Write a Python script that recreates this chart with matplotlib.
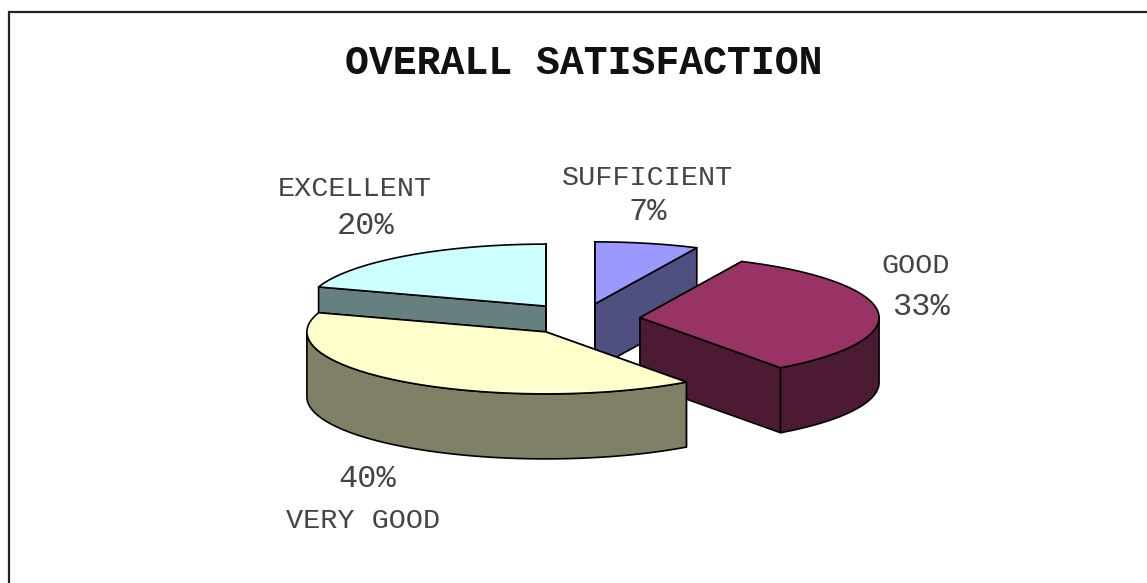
import numpy as np
import matplotlib
matplotlib.use("Agg")
import matplotlib.pyplot as plt
from matplotlib.patches import Polygon

# data
labels = ["SUFFICIENT", "GOOD", "VERY GOOD", "EXCELLENT"]
values = [7, 33, 40, 20]
top_colors = ["#9999FF", "#993366", "#FFFFCC", "#CCFFFF"]
side_colors = ["#4F4F80", "#4D1A33", "#808066", "#668080"]

# geometry of the tilted pie, in image pixels
CX, CY = 582, 319
RX, RY = 239, 62
DEPTH = 65
EXPLODE = [0.25, 0.244, 0.257, 0.257]
DRAW_ORDER = [0, 3, 1, 2]  # back to front

plt.rcParams["font.family"] = ["Liberation Mono", "DejaVu Sans Mono"]

fig = plt.figure(figsize=(11.47, 5.83), dpi=100)
ax = fig.add_axes([0, 0, 1, 1])
ax.set_xlim(0, 1147)
ax.set_ylim(583, 0)
ax.axis("off")

# page frame, only left and top are visible
ax.plot([8.5, 8.5, 1147], [583, 11.5, 11.5], color="#222222", lw=1.6, solid_joinstyle="miter")


def rim(cx, cy, a0, a1):
    t = np.radians(np.linspace(a0, a1, 80))
    return np.column_stack([cx + RX * np.sin(t), cy - RY * np.cos(t)])


def face(pts, color, z):
    ax.add_patch(Polygon(pts, closed=True, facecolor=color, edgecolor="black", lw=1.2, zorder=z, joinstyle="round"))


edges = np.cumsum([0] + values) / sum(values) * 360
for z, i in enumerate(DRAW_ORDER):
    a0, a1 = edges[i], edges[i + 1]
    mid = np.radians((a0 + a1) / 2)
    cx = CX + EXPLODE[i] * RX * np.sin(mid)
    cy = CY - EXPLODE[i] * RY * np.cos(mid)
    down = np.array([0, DEPTH])
    apex = np.array([cx, cy])
    arc = rim(cx, cy, a0, a1)
    zb = 10 + z * 10

    # cut faces of the slice
    for edge_pt in (arc[0], arc[-1]):
        face([apex, edge_pt, edge_pt + down, apex + down], side_colors[i], zb)
    # outer wall, only the part facing the viewer
    lo, hi = max(a0, 90), min(a1, 270)
    if lo < hi:
        wall = rim(cx, cy, lo, hi)
        face(np.vstack([wall, wall[::-1] + down]), side_colors[i], zb + 1)
    face(np.vstack([apex, arc]), top_colors[i], zb + 2)

ax.text(584, 63, "OVERALL SATISFACTION", ha="center", va="center", fontsize=28.7,
        fontweight="bold", color="#111111")

label_pos = [(648, 178), (916, 266), (363, 521), (355, 189)]
pct_pos = [(648, 212), (921, 307), (367, 479), (366, 226)]
for name, v, lp, pp in zip(labels, values, label_pos, pct_pos):
    ax.text(lp[0], lp[1], name, ha="center", va="center", fontsize=20.5, color="#444444")
    ax.text(pp[0], pp[1], f"{v}%", ha="center", va="center", fontsize=23, color="#444444")

fig.savefig("out.png", dpi=100)
